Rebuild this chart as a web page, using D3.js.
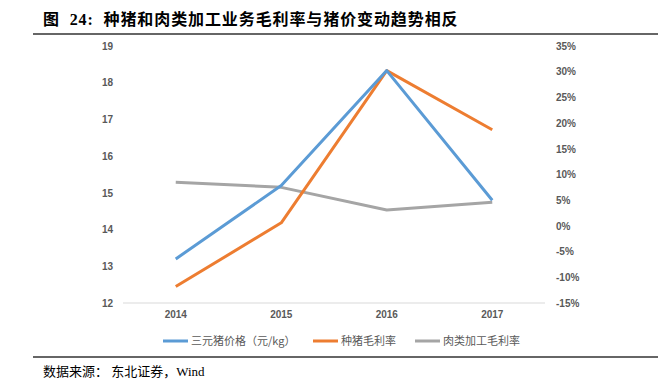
<!DOCTYPE html>
<html>
<head>
<meta charset="utf-8">
<script src="https://cdn.jsdelivr.net/npm/d3@7"></script>
<style>
  body { margin: 0; background: #fff; }
  svg { display: block; }
  text { white-space: pre; }
</style>
</head>
<body>
<div class="chart"></div>
<script>
'use strict';

// data
var years = ['2014', '2015', '2016', '2017'];
var hogPrice = [13.2, 15.2, 18.33, 14.8];      // 三元猪价格 (元/kg), left axis
var breederMargin = [-11.8, 0.6, 30.2, 18.7];  // 种猪毛利率 (%), right axis
var meatMargin = [8.5, 7.5, 3.1, 4.6];         // 肉类加工毛利率 (%), right axis
var leftTicks = [12, 13, 14, 15, 16, 17, 18, 19];
var rightTicks = [-15, -10, -5, 0, 5, 10, 15, 20, 25, 30, 35];
var seriesNames = ['三元猪价格（元/kg）', '种猪毛利率', '肉类加工毛利率'];
var seriesColors = ['#5B9BD5', '#ED7D31', '#A5A5A5'];

/*---------------------------------------------------------------
size
---------------------------------------------------------------*/
var w = 669,
    h = 388;

var plot = { left: 123, right: 545, top: 46, bottom: 303 };

var svg = d3.select('.chart')
    .append('svg')
    .attr('width', w)
    .attr('height', h);

/*---------------------------------------------------------------
title + rules
---------------------------------------------------------------*/
svg.append('text')
    .attr('x', 43)
    .attr('y', 25)
    .attr('font-family', '"Liberation Serif", "Noto Sans CJK SC", serif')
    .attr('font-size', 16)
    .attr('font-weight', 'bold')
    .attr('letter-spacing', 0.9)
    .attr('fill', '#000')
    .text('图  24:  种猪和肉类加工业务毛利率与猪价变动趋势相反');

svg.append('line')
    .attr('x1', 33).attr('x2', 658)
    .attr('y1', 34).attr('y2', 34)
    .attr('stroke', '#333').attr('stroke-width', 1.5);

svg.append('line')
    .attr('x1', 33).attr('x2', 658)
    .attr('y1', 357).attr('y2', 357)
    .attr('stroke', '#333').attr('stroke-width', 1.5);

svg.append('text')
    .attr('x', 43)
    .attr('y', 376)
    .attr('font-family', '"Liberation Serif", "Noto Sans CJK SC", serif')
    .attr('font-size', 13)
    .attr('fill', '#000')
    .text('数据来源： 东北证券，Wind');

/*---------------------------------------------------------------
scales
---------------------------------------------------------------*/
var x = d3.scaleBand()
    .domain(years)
    .range([plot.left, plot.right]);

var yLeft = d3.scaleLinear()
    .domain([12, 19])
    .range([plot.bottom, plot.top]);

var yRight = d3.scaleLinear()
    .domain([-15, 35])
    .range([plot.bottom, plot.top]);

var cx = function(d) { return x(d) + x.bandwidth() / 2; };

/*---------------------------------------------------------------
axes
---------------------------------------------------------------*/
var tickFont = '"Liberation Sans", Arial, sans-serif';

var leftAxis = svg.append('g')
    .attr('transform', 'translate(' + (plot.left - 10) + ',0)')
    .call(d3.axisLeft(yLeft).tickValues(leftTicks).tickSize(0).tickPadding(0)
        .tickFormat(d3.format('d')));

var rightAxis = svg.append('g')
    .attr('transform', 'translate(' + (plot.right + 11) + ',0)')
    .call(d3.axisRight(yRight).tickValues(rightTicks).tickSize(0).tickPadding(0)
        .tickFormat(function(d) { return d + '%'; }));

var bottomAxis = svg.append('g')
    .attr('transform', 'translate(0,' + (plot.bottom + 8) + ')')
    .call(d3.axisBottom(x).tickSize(0).tickPadding(0));

[leftAxis, rightAxis, bottomAxis].forEach(function(g) {
    g.select('.domain').remove();
    g.selectAll('text')
        .attr('font-family', tickFont)
        .attr('font-size', 10)
        .attr('font-weight', 'bold')
        .attr('fill', '#595959');
});

// baseline
svg.append('line')
    .attr('x1', plot.left).attr('x2', plot.right)
    .attr('y1', plot.bottom).attr('y2', plot.bottom)
    .attr('stroke', '#D9D9D9').attr('stroke-width', 1);

/*---------------------------------------------------------------
lines
---------------------------------------------------------------*/
var series = [
    { values: hogPrice, scale: yLeft },
    { values: breederMargin, scale: yRight },
    { values: meatMargin, scale: yRight }
];

// draw gray first, then orange, then blue on top
[2, 1, 0].forEach(function(i) {
    var s = series[i];
    var line = d3.line()
        .x(function(d, j) { return cx(years[j]); })
        .y(function(d) { return s.scale(d); });

    svg.append('path')
        .datum(s.values)
        .attr('d', line)
        .attr('fill', 'none')
        .attr('stroke', seriesColors[i])
        .attr('stroke-width', 3)
        .attr('stroke-linejoin', 'round');
});

/*---------------------------------------------------------------
legend
---------------------------------------------------------------*/
var legendX = [163, 313, 415];

var legend = svg.selectAll('.legend')
    .data(seriesNames)
    .enter()
    .append('g')
    .attr('class', 'legend')
    .attr('transform', function(d, i) { return 'translate(' + legendX[i] + ',341)'; });

legend.append('line')
    .attr('x1', 0).attr('x2', 25)
    .attr('y1', 0).attr('y2', 0)
    .attr('stroke', function(d, i) { return seriesColors[i]; })
    .attr('stroke-width', 3);

legend.append('text')
    .attr('x', 28)
    .attr('y', 4)
    .attr('font-family', '"Noto Sans CJK SC", sans-serif')
    .attr('font-size', 11)
    .attr('fill', '#595959')
    .text(function(d) { return d; });
</script>
</body>
</html>
